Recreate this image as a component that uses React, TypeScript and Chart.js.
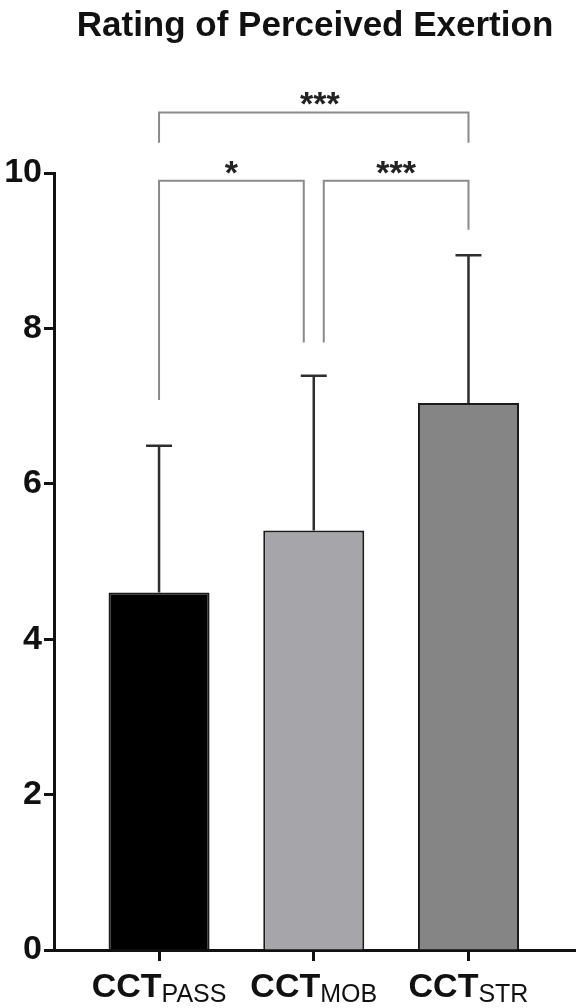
import React, { useEffect, useRef } from "react";
import { Chart, registerables } from "chart.js";

Chart.register(...registerables);

const titleText = "Rating of Perceived Exertion";
const labelMain = "CCT";
const categories = ["PASS", "MOB", "STR"];
const means = [4.6, 5.4, 7.04];
const sds = [1.89, 1.99, 1.9];
const barColors = ["#000000", "#a6a6aa", "#858585"];
const yTicks = [0, 2, 4, 6, 8, 10];

// significance brackets (category indices and levels in data units)
const bracketFrom = [0, 1, 0];
const bracketTo = [1, 2, 2];
const bracketLevel = [9.9, 9.9, 10.78];
const legEndFrom = [7.08, 7.82, 10.39];
const legEndTo = [7.82, 9.27, 10.39];
const bracketStars = ["*", "***", "***"];

const FONT = "'Liberation Sans', Arial, Helvetica, sans-serif";

export default function App() {
  const canvasRef = useRef<HTMLCanvasElement | null>(null);

  useEffect(() => {
    document.body.style.margin = "0";
    const canvas = canvasRef.current;
    if (!canvas) return;

    // pixel nudges so adjacent brackets do not touch
    const fromNudge = [0, 10, 0];
    const toNudge = [-10, 0, 0];

    const overlay = {
      id: "overlay",
      afterDatasetsDraw(chart: any) {
        const { ctx, scales } = chart;
        const x = scales.x;
        const y = scales.y;
        ctx.save();
        ctx.strokeStyle = "#2e2e2e";
        ctx.lineWidth = 2.5;
        means.forEach((m, i) => {
          const px = x.getPixelForValue(i);
          const base = y.getPixelForValue(m);
          const top = y.getPixelForValue(m + sds[i]);
          ctx.beginPath();
          ctx.moveTo(px, base);
          ctx.lineTo(px, top);
          ctx.moveTo(px - 13, top);
          ctx.lineTo(px + 13, top);
          ctx.stroke();
        });
        ctx.restore();
      },
      afterDraw(chart: any) {
        const { ctx, scales, chartArea } = chart;
        const x = scales.x;
        const y = scales.y;
        ctx.save();
        // title
        ctx.fillStyle = "#111";
        ctx.font = `bold 35px ${FONT}`;
        ctx.textAlign = "center";
        ctx.textBaseline = "alphabetic";
        ctx.fillText(titleText, (chartArea.left + chartArea.right) / 2, 36);

        // brackets
        ctx.strokeStyle = "#8a8a8a";
        ctx.lineWidth = 2;
        bracketFrom.forEach((f, k) => {
          const x1 = x.getPixelForValue(f) + fromNudge[k];
          const x2 = x.getPixelForValue(bracketTo[k]) + toNudge[k];
          const yl = y.getPixelForValue(bracketLevel[k]);
          ctx.beginPath();
          ctx.moveTo(x1, y.getPixelForValue(legEndFrom[k]));
          ctx.lineTo(x1, yl);
          ctx.lineTo(x2, yl);
          ctx.lineTo(x2, y.getPixelForValue(legEndTo[k]));
          ctx.stroke();
          ctx.fillStyle = "#222";
          ctx.font = `bold 34px ${FONT}`;
          ctx.textAlign = "center";
          ctx.fillText(bracketStars[k], (x1 + x2) / 2 + (k === 2 ? 6 : 0), yl + 3);
        });

        // x labels with subscripts
        categories.forEach((c, i) => {
          const px = x.getPixelForValue(i);
          ctx.font = `bold 34px ${FONT}`;
          const w1 = ctx.measureText(labelMain).width;
          ctx.font = `25px ${FONT}`;
          const w2 = ctx.measureText(c).width;
          const start = px - (w1 + w2) / 2;
          ctx.textAlign = "left";
          ctx.fillStyle = "#111";
          ctx.font = `bold 34px ${FONT}`;
          ctx.fillText(labelMain, start, chartArea.bottom + 47);
          ctx.font = `25px ${FONT}`;
          ctx.fillText(c, start + w1, chartArea.bottom + 52);
        });
        ctx.restore();
      },
    };

    const chart = new Chart(canvas, {
      type: "bar",
      data: {
        datasets: [
          {
            data: means.map((m, i) => ({ x: i, y: m })),
            backgroundColor: barColors,
            borderColor: "#1a1a1a",
            borderWidth: 2,
            barPercentage: 0.653,
            categoryPercentage: 1,
          },
        ],
      },
      options: {
        responsive: false,
        animation: false,
        layout: { padding: { top: 173, left: 0, right: 0, bottom: 0 } },
        plugins: {
          legend: { display: false },
          tooltip: { enabled: false },
          title: { display: false },
        },
        scales: {
          x: {
            type: "linear",
            min: -0.679,
            max: 2.695,
            offset: false,
            afterBuildTicks: (axis: any) => {
              axis.ticks = categories.map((_, i) => ({ value: i }));
            },
            ticks: { callback: () => "" },
            grid: {
              offset: false,
              drawOnChartArea: false,
              drawTicks: true,
              tickLength: 11,
              tickWidth: 3,
              tickColor: "#111",
            },
            border: { display: true, width: 3, color: "#111" },
            afterFit: (s: any) => {
              s.height = 58;
            },
          },
          y: {
            type: "linear",
            min: 0,
            max: 10,
            afterBuildTicks: (axis: any) => {
              axis.ticks = yTicks.map((v) => ({ value: v }));
            },
            ticks: {
              font: { family: FONT, size: 34, weight: "bold" },
              color: "#111",
              padding: 2,
            },
            grid: {
              offset: false,
              drawOnChartArea: false,
              drawTicks: true,
              tickLength: 10,
              tickWidth: 3,
              tickColor: "#111",
            },
            border: { display: true, width: 3, color: "#111" },
            afterFit: (s: any) => {
              s.width = 54;
            },
          },
        },
      } as any,
      plugins: [overlay],
    });

    return () => chart.destroy();
  }, []);

  return (
    <canvas
      ref={canvasRef}
      width={576}
      height={1008}
      style={{ display: "block", width: 576, height: 1008 }}
    />
  );
}
